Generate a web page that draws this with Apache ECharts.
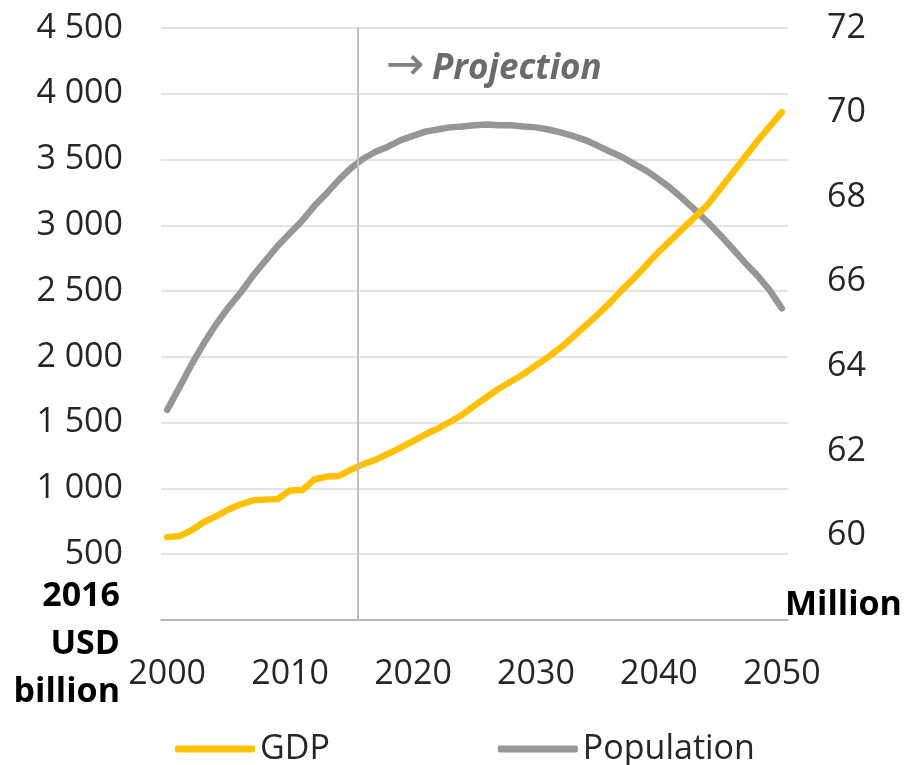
<!DOCTYPE html>
<html>
<head>
<meta charset="utf-8">
<script src="https://cdn.jsdelivr.net/npm/echarts@6/dist/echarts.min.js"></script>
<style>
  html, body { margin: 0; padding: 0; background: #fff; }
  #chart { width: 910px; height: 765px; }
</style>
</head>
<body>
<div id="chart"></div>
<script>
// years on the x axis
const years = [2000, 2001, 2002, 2003, 2004, 2005, 2006, 2007, 2008, 2009,
  2010, 2011, 2012, 2013, 2014, 2015, 2016, 2017, 2018, 2019,
  2020, 2021, 2022, 2023, 2024, 2025, 2026, 2027, 2028, 2029,
  2030, 2031, 2032, 2033, 2034, 2035, 2036, 2037, 2038, 2039,
  2040, 2041, 2042, 2043, 2044, 2045, 2046, 2047, 2048, 2049, 2050];

// GDP, 2016 USD billion (left axis)
const gdp = [630, 638, 682, 745, 790, 840, 880, 910, 915, 920,
  985, 988, 1070, 1090, 1095, 1145, 1185, 1220, 1265, 1310,
  1360, 1410, 1455, 1505, 1560, 1630, 1695, 1760, 1815, 1870,
  1935, 2000, 2070, 2150, 2235, 2320, 2410, 2510, 2600, 2700,
  2800, 2890, 2980, 3070, 3160, 3280, 3400, 3520, 3640, 3750, 3860];

// population, million (right axis)
const population = [62.97, 63.5, 64.05, 64.55, 65.0, 65.4, 65.75, 66.15, 66.5, 66.85,
  67.15, 67.45, 67.8, 68.1, 68.42, 68.7, 68.92, 69.08, 69.2, 69.35,
  69.45, 69.55, 69.6, 69.65, 69.67, 69.7, 69.72, 69.7, 69.7, 69.67,
  69.65, 69.6, 69.53, 69.45, 69.35, 69.22, 69.08, 68.95, 68.78, 68.62,
  68.42, 68.2, 67.95, 67.68, 67.4, 67.1, 66.78, 66.45, 66.15, 65.8, 65.37];

const xTicks = [2000, 2010, 2020, 2030, 2040, 2050];
const projectionStart = 2015.5;

const FONT = '"Open Sans", "Noto Sans", sans-serif';

const myChart = echarts.init(document.getElementById('chart'));

//把年份和数值配对
const gdpData = years.map((y, i) => [y, gdp[i]]);
const popData = years.map((y, i) => [y, population[i]]);

function spaced(v) {
  return String(v).replace(/\B(?=(\d{3})+(?!\d))/g, ' ');
}

const option = {
  animation: false,
  grid: { left: 161, right: 122, top: 28, bottom: 145 },
  textStyle: { fontFamily: FONT },
  xAxis: {
    type: 'value',
    min: 1999.5,
    max: 2050.5,
    axisLine: { show: true, onZero: false, lineStyle: { color: '#a6a6a6', width: 1.5 } },
    axisTick: { show: false },
    splitLine: { show: false },
    axisLabel: {
      customValues: xTicks,
      formatter: v => String(v),
      margin: 37,
      fontSize: 34,
      color: '#262626',
      fontFamily: FONT
    }
  },
  yAxis: [
    {
      type: 'value',
      min: 0,
      max: 4500,
      interval: 500,
      axisLine: { show: false },
      axisTick: { show: false },
      splitLine: { show: true, lineStyle: { color: '#d9d9d9', width: 1.5 } },
      axisLabel: {
        formatter: v => (v === 0 ? '' : spaced(v)),
        margin: 38,
        fontSize: 34,
        color: '#262626',
        fontFamily: FONT
      }
    },
    {
      type: 'value',
      min: 58,
      max: 72,
      interval: 2,
      position: 'right',
      axisLine: { show: false },
      axisTick: { show: false },
      splitLine: { show: false },
      axisLabel: {
        formatter: v => (v === 58 ? '' : String(v)),
        margin: 39,
        fontSize: 34,
        color: '#262626',
        fontFamily: FONT
      }
    }
  ],
  legend: {
    left: 170,
    top: 727,
    itemWidth: 80,
    itemHeight: 7,
    itemGap: 168,
    icon: 'roundRect',
    textStyle: { fontSize: 34, color: '#262626', fontFamily: FONT },
    data: ['GDP', 'Population']
  },
  series: [
    {
      name: 'GDP',
      type: 'line',
      yAxisIndex: 0,
      data: gdpData,
      showSymbol: false,
      color: '#FFC000',
      lineStyle: { width: 6.5, color: '#FFC000', cap: 'round', join: 'round' },
      z: 3,
      markLine: {
        silent: true,
        symbol: 'none',
        label: { show: false },
        lineStyle: { color: '#bfbfbf', width: 2, type: 'solid' },
        data: [{ xAxis: projectionStart }]
      }
    },
    {
      name: 'Population',
      type: 'line',
      yAxisIndex: 1,
      data: popData,
      showSymbol: false,
      color: '#969696',
      lineStyle: { width: 6.5, color: '#969696', cap: 'round', join: 'round' },
      z: 2
    }
  ],
  graphic: [
    {
      type: 'text',
      x: 386,
      y: 67,
      style: {
        text: '→',
        font: '46px "DejaVu Sans"',
        fill: '#7f7f7f',
        verticalAlign: 'middle'
      }
    },
    {
      type: 'text',
      x: 432,
      y: 69,
      style: {
        text: 'Projection',
        font: 'italic bold 35px ' + FONT,
        fill: '#6b6b6b',
        verticalAlign: 'middle'
      }
    },
    {
      type: 'text',
      x: 120,
      y: 572,
      style: {
        text: '2016\nUSD\nbillion',
        align: 'right',
        font: 'bold 34px ' + FONT,
        lineHeight: 48,
        fill: '#000'
      }
    },
    {
      type: 'text',
      x: 785,
      y: 588,
      style: {
        text: 'Million',
        font: 'bold 34px ' + FONT,
        fill: '#000'
      }
    }
  ]
};

//使用配置项渲染图表
option && myChart.setOption(option);
</script>
</body>
</html>
